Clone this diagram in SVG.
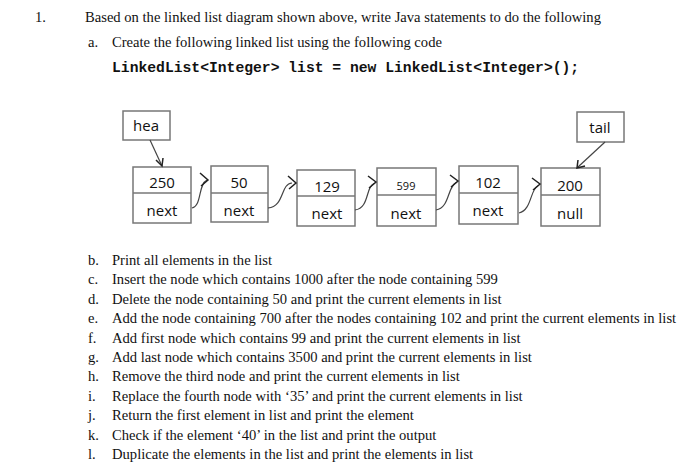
<svg xmlns="http://www.w3.org/2000/svg" width="700" height="476" viewBox="0 0 700 476">
<style>
.t{font-family:"Liberation Serif",serif;font-size:14.6px;fill:#111}
.c{font-family:"Liberation Mono",monospace;font-size:14.7px;font-weight:bold;fill:#111}
.n{font-family:"Open Sans","Liberation Sans",sans-serif;font-size:15px;fill:#111;text-anchor:middle}
.b{fill:#fff;stroke:#777;stroke-width:1.5}
.l{fill:none;stroke:#444;stroke-width:1.2}
.a{fill:none;stroke:#222;stroke-width:1.5}
</style>
<rect width="700" height="476" fill="#fff"/>
<text class="t" x="35" y="22">1.</text>
<text class="t" x="85" y="22">Based on the linked list diagram shown above, write Java statements to do the following</text>
<text class="t" x="88" y="47">a.</text>
<text class="t" x="112" y="47">Create the following linked list  using the following code</text>
<text class="c" x="112" y="72">LinkedList&lt;Integer&gt; list = new LinkedList&lt;Integer&gt;();</text>
<g id="head"><rect class="b" x="123" y="111" width="47" height="29"/><text class="n" x="146" y="131">hea</text></g>
<g id="tail"><rect class="b" x="577" y="112" width="47" height="30"/><text class="n" x="600" y="133">tail</text></g>
<g id="n1"><rect class="b" x="133" y="167" width="58" height="56"/><line class="b" x1="133" y1="193" x2="191" y2="193"/><text class="n" x="162" y="188">250</text><text class="n" x="162" y="216">next</text></g>
<g id="n2"><rect class="b" x="211" y="166" width="57" height="56"/><line class="b" x1="211" y1="193" x2="268" y2="193"/><text class="n" x="239" y="188">50</text><text class="n" x="239" y="216">next</text></g>
<g id="n3"><rect class="b" x="297" y="170" width="58" height="56"/><line class="b" x1="297" y1="196" x2="355" y2="196"/><text class="n" x="327" y="192">129</text><text class="n" x="327" y="219">next</text></g>
<g id="n4"><rect class="b" x="377" y="168" width="59" height="58"/><line class="b" x1="377" y1="195" x2="436" y2="195"/><text class="n" x="406" y="190" style="font-size:11px">599</text><text class="n" x="406" y="219">next</text></g>
<g id="n5"><rect class="b" x="459" y="166" width="59" height="58"/><line class="b" x1="459" y1="193" x2="518" y2="193"/><text class="n" x="488" y="188">102</text><text class="n" x="488" y="216">next</text></g>
<g id="n6"><rect class="b" x="541" y="168" width="59" height="58"/><line class="b" x1="541" y1="195" x2="600" y2="195"/><text class="n" x="570" y="191">200</text><text class="n" x="570" y="219">null</text></g>
<g id="connectors">
<path class="l" d="M150,140 L162,166"/><path class="a" d="M156,160 L162,166 L163,158"/>
<path class="l" d="M605,142 L578,167"/><path class="a" d="M578,160 L577,168 L585,166"/>
<path class="l" d="M192,208 C202,206 198,184 207,180"/><path class="a" d="M200,173 L208,180 L201,186"/>
<path class="l" d="M268,208 C285,206 280,184 292,183"/><path class="a" d="M288,176 L296,183 L289,189"/>
<path class="l" d="M355,210 C370,208 365,186 375,183"/><path class="a" d="M368,176 L376,182 L369,188"/>
<path class="l" d="M436,210 C450,208 447,186 457,182"/><path class="a" d="M450,175 L458,181 L451,187"/>
<path class="l" d="M519,213 C532,210 530,189 538,186"/><path class="a" d="M532,178 L540,184 L533,190"/>
</g>
<g class="t">
<text x="88" y="265">b.</text><text x="112" y="265">Print all elements in the list</text>
<text x="88" y="284">c.</text><text x="112" y="284">Insert the node which contains 1000 after the node containing 599</text>
<text x="88" y="304">d.</text><text x="112" y="304">Delete the node containing 50 and print the current elements in list</text>
<text x="88" y="323">e.</text><text x="112" y="323">Add the node containing 700 after the nodes containing 102 and print the current elements in list</text>
<text x="88" y="343">f.</text><text x="112" y="343">Add first node which contains 99 and print the current elements in list</text>
<text x="88" y="362">g.</text><text x="112" y="362">Add last node which contains 3500 and print the current elements in list</text>
<text x="88" y="381">h.</text><text x="112" y="381">Remove the third node and print the current elements in list</text>
<text x="88" y="401">i.</text><text x="112" y="401">Replace the fourth node with ‘35’ and print the current elements in list</text>
<text x="88" y="420">j.</text><text x="112" y="420">Return the first element in list and print the element</text>
<text x="88" y="440">k.</text><text x="112" y="440">Check if the element ‘40’ in the list and print the output</text>
<text x="88" y="459">l.</text><text x="112" y="459">Duplicate the elements in the list and print the elements in list</text>
</g>
</svg>
